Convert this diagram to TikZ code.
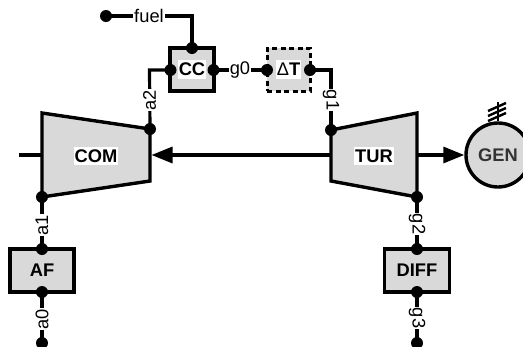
\documentclass[tikz,border=0pt]{standalone}
\usepackage{fontspec}
\setmainfont{Liberation Sans}
\usetikzlibrary{arrows.meta}
\definecolor{unitfill}{RGB}{217,217,217}
\newcommand{\lblfont}{\fontsize{18.3}{20}\selectfont}
\tikzset{
  x=1pt,y=-1pt,
  wire/.style={line width=3.2pt,line join=miter},
  unitbox/.style={draw,line width=3.4pt,fill=unitfill,rectangle,minimum width=#1,minimum height=43pt,inner sep=0pt},
  unitbox/.default=44pt,
  dashbox/.style={draw,line width=3pt,fill=unitfill,rectangle,dash pattern=on 5pt off 3.5pt,minimum width=43pt,minimum height=43pt,inner sep=0pt},
  machine/.style={draw,line width=3.4pt,fill=unitfill,line join=miter},
  port/.style={circle,fill=black,minimum size=12pt,inner sep=0pt},
  wlabel/.style={fill=white,font=\lblfont,inner sep=1pt},
  tag/.style={fill=white,font=\lblfont\bfseries,inner xsep=1pt,inner ysep=3pt},
  head/.style={-{Triangle[length=21pt,width=16pt]},line width=3.2pt},
}
\begin{document}
\begin{tikzpicture}
\useasboundingbox (0,0) rectangle (523,346);
\coordinate (fuelcorner) at (192,16);
\coordinate (a2corner) at (149.5,70);
\coordinate (g1corner) at (331,70);
\coordinate (shaftin) at (19,155);
\draw[machine] (42,113) -- (150,129) -- (150,181) -- (42,197) -- cycle;
\draw[machine] (331,130) -- (417,113) -- (417,197) -- (331,181) -- cycle;
\coordinate (comleft) at (42,155);
\coordinate (comright) at (151.5,155);
\coordinate (turleft) at (331,155);
\coordinate (turright) at (417,155);
\node[tag] (com) at (96,156) {COM};
\node[tag] (tur) at (374,156) {TUR};
\node[circle,draw,line width=3.4pt,fill=unitfill,minimum size=64pt,inner sep=0pt,font=\lblfont\bfseries,text=black!80] (gen) at (498,155) {GEN};
\node[unitbox=44pt] (cc) at (192,69.5) {};
\node[tag] at (cc) {CC};
\node[dashbox] (dt) at (288.5,69.5) {};
\node[tag] at (dt) {\textmd{Δ}T};
\node[unitbox=64pt] (af) at (42,270.5) {\lblfont\bfseries AF};
\node[unitbox=65pt] (diff) at (417,270.5) {\lblfont\bfseries DIFF};
\node[port] (fuelsrc) at (106,16) {};
\node[port] (ccn) at (192,48) {};
\node[port] (ccw) at (170.5,70) {};
\node[port] (cce) at (213.5,70) {};
\node[port] (dtw) at (267,70) {};
\node[port] (dte) at (310,70) {};
\node[port] (comout) at (150,129) {};
\node[port] (comin) at (42,197) {};
\node[port] (turin) at (331,130) {};
\node[port] (turout) at (417,197) {};
\node[port] (afn) at (42,249) {};
\node[port] (afs) at (42,292) {};
\node[port] (a0end) at (42,343) {};
\node[port] (diffn) at (417,249) {};
\node[port] (diffs) at (417,292) {};
\node[port] (g3end) at (417,343) {};
\draw[wire] (fuelsrc.center) -- (fuelcorner) -- (ccn.center);
\draw[wire] (ccw.center) -- (a2corner) -- (comout.center);
\draw[wire] (cce.center) -- (dtw.center);
\draw[wire] (dte.center) -- (g1corner) -- (turin.center);
\draw[wire] (comin.center) -- (afn.center);
\draw[wire] (afs.center) -- (a0end.center);
\draw[wire] (turout.center) -- (diffn.center);
\draw[wire] (diffs.center) -- (g3end.center);
\draw[wire] (shaftin) -- (comleft);
\draw[head] (turleft) -- (comright);
\draw[head] (turright) -- (gen.west);
\node[wlabel] (fuel) at (149,16) {fuel};
\node[wlabel] (g0) at (240,70) {g0};
\node[wlabel,rotate=90] (a2) at (149.5,100) {a2};
\node[wlabel,rotate=-90] (g1) at (331,100) {g1};
\node[wlabel,rotate=90] (a1) at (42,225) {a1};
\node[wlabel,rotate=90] (a0) at (42,319) {a0};
\node[wlabel,rotate=-90] (g2) at (417,224) {g2};
\node[wlabel,rotate=-90] (g3) at (417,318) {g3};
\coordinate (gentick) at (498,102);
\draw[line width=2.6pt] (gen.north) -- (gentick);
\draw[line width=2.4pt] (488,111) -- (506,103);
\draw[line width=2.4pt] (488,116) -- (506,108);
\draw[line width=2.4pt] (488,121) -- (506,113);
\end{tikzpicture}
\end{document}
